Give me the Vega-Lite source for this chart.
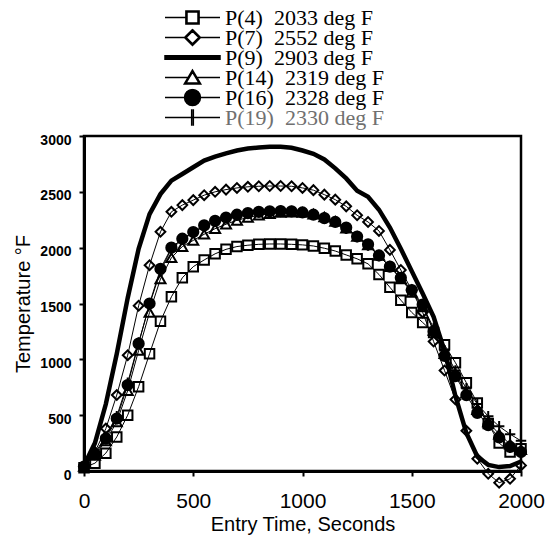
{
  "$schema": "https://vega.github.io/schema/vega-lite/v6.json",
  "width": 437,
  "height": 335,
  "autosize": "none",
  "padding": {"left": 84, "top": 136, "right": 25, "bottom": 73},
  "background": "white",
  "config": {"view": {"stroke": "black", "strokeWidth": 2.5}},
  "data": {"values": [
    {"t": 0, "p4": 30, "p7": 40, "p9": 50, "p14": 40, "p16": 40, "p19": 50},
    {"t": 50, "p4": 70, "p7": 170, "p9": 250, "p14": 140, "p16": 150, "p19": 160},
    {"t": 100, "p4": 160, "p7": 380, "p9": 600, "p14": 270, "p16": 290, "p19": 310},
    {"t": 150, "p4": 305, "p7": 680, "p9": 1050, "p14": 440, "p16": 470, "p19": 490},
    {"t": 200, "p4": 500, "p7": 1037, "p9": 1550, "p14": 720, "p16": 770, "p19": 790},
    {"t": 250, "p4": 755, "p7": 1480, "p9": 1990, "p14": 1080, "p16": 1140, "p19": 1150},
    {"t": 300, "p4": 1050, "p7": 1843, "p9": 2300, "p14": 1420, "p16": 1500, "p19": 1490},
    {"t": 350, "p4": 1340, "p7": 2142, "p9": 2480, "p14": 1720, "p16": 1810, "p19": 1790},
    {"t": 400, "p4": 1560, "p7": 2321, "p9": 2600, "p14": 1910, "p16": 2000, "p19": 1990},
    {"t": 450, "p4": 1730, "p7": 2381, "p9": 2660, "p14": 2010, "p16": 2080, "p19": 2070},
    {"t": 500, "p4": 1830, "p7": 2426, "p9": 2720, "p14": 2065, "p16": 2140, "p19": 2135},
    {"t": 550, "p4": 1890, "p7": 2470, "p9": 2780, "p14": 2120, "p16": 2200, "p19": 2190},
    {"t": 600, "p4": 1945, "p7": 2500, "p9": 2815, "p14": 2170, "p16": 2240, "p19": 2235},
    {"t": 650, "p4": 1985, "p7": 2520, "p9": 2845, "p14": 2210, "p16": 2270, "p19": 2265},
    {"t": 700, "p4": 2010, "p7": 2535, "p9": 2870, "p14": 2245, "p16": 2295, "p19": 2290},
    {"t": 750, "p4": 2022, "p7": 2545, "p9": 2888, "p14": 2270, "p16": 2310, "p19": 2308},
    {"t": 800, "p4": 2030, "p7": 2550, "p9": 2897, "p14": 2290, "p16": 2320, "p19": 2320},
    {"t": 850, "p4": 2033, "p7": 2552, "p9": 2903, "p14": 2305, "p16": 2326, "p19": 2327},
    {"t": 900, "p4": 2033, "p7": 2552, "p9": 2903, "p14": 2315, "p16": 2328, "p19": 2330},
    {"t": 950, "p4": 2030, "p7": 2550, "p9": 2895, "p14": 2319, "p16": 2325, "p19": 2328},
    {"t": 1000, "p4": 2025, "p7": 2535, "p9": 2870, "p14": 2315, "p16": 2315, "p19": 2318},
    {"t": 1050, "p4": 2015, "p7": 2515, "p9": 2840, "p14": 2300, "p16": 2295, "p19": 2300},
    {"t": 1100, "p4": 1995, "p7": 2475, "p9": 2790, "p14": 2275, "p16": 2265, "p19": 2270},
    {"t": 1150, "p4": 1970, "p7": 2430, "p9": 2710, "p14": 2235, "p16": 2230, "p19": 2230},
    {"t": 1200, "p4": 1935, "p7": 2370, "p9": 2620, "p14": 2175, "p16": 2180, "p19": 2170},
    {"t": 1250, "p4": 1900, "p7": 2290, "p9": 2510, "p14": 2100, "p16": 2100, "p19": 2095},
    {"t": 1300, "p4": 1855, "p7": 2230, "p9": 2455, "p14": 2025, "p16": 2030, "p19": 2020},
    {"t": 1350, "p4": 1760, "p7": 2150, "p9": 2340, "p14": 1930, "p16": 1930, "p19": 1925},
    {"t": 1400, "p4": 1645, "p7": 1980, "p9": 2180, "p14": 1830, "p16": 1830, "p19": 1830},
    {"t": 1450, "p4": 1530, "p7": 1800, "p9": 1990, "p14": 1720, "p16": 1730, "p19": 1725},
    {"t": 1500, "p4": 1420, "p7": 1620, "p9": 1790, "p14": 1600, "p16": 1620, "p19": 1610},
    {"t": 1550, "p4": 1330, "p7": 1420, "p9": 1590, "p14": 1470, "p16": 1490, "p19": 1480},
    {"t": 1600, "p4": 1240, "p7": 1160, "p9": 1380, "p14": 1260, "p16": 1250, "p19": 1280},
    {"t": 1650, "p4": 1130, "p7": 900, "p9": 1075, "p14": 1050, "p16": 1030, "p19": 1080},
    {"t": 1700, "p4": 970, "p7": 640, "p9": 670, "p14": 870, "p16": 850, "p19": 900},
    {"t": 1750, "p4": 790, "p7": 360, "p9": 340, "p14": 700, "p16": 680, "p19": 740},
    {"t": 1800, "p4": 610, "p7": 110, "p9": 130, "p14": 550, "p16": 520, "p19": 600},
    {"t": 1850, "p4": 425, "p7": -25, "p9": 55, "p14": 440, "p16": 410, "p19": 490},
    {"t": 1900, "p4": 250, "p7": -105, "p9": 35, "p14": 330, "p16": 300, "p19": 400},
    {"t": 1950, "p4": 170, "p7": -70, "p9": 45, "p14": 240, "p16": 215, "p19": 330},
    {"t": 2000, "p4": 200, "p7": 50, "p9": 85, "p14": 190, "p16": 170, "p19": 270}
  ]},
  "transform": [{"fold": ["p4", "p7", "p9", "p14", "p16", "p19"], "as": ["s", "T"]}],
  "encoding": {
    "x": {
      "field": "t", "type": "quantitative",
      "scale": {"domain": [0, 2000], "nice": false, "zero": false},
      "axis": {
        "values": [0, 500, 1000, 1500, 2000], "format": "d", "grid": false,
        "domainColor": "black", "domainWidth": 3,
        "tickColor": "black", "tickWidth": 2, "tickSize": 5,
        "labelFont": "Liberation Sans", "labelFontSize": 21, "labelColor": "black", "labelPadding": 14,
        "labelFlush": false,
        "title": "Entry Time, Seconds", "titleFont": "Liberation Sans", "titleFontSize": 20,
        "titleFontWeight": "normal", "titleColor": "black", "titlePadding": 3
      }
    },
    "y": {
      "field": "T", "type": "quantitative",
      "scale": {"domain": [0, 3000], "nice": false},
      "axis": {
        "values": [0, 500, 1000, 1500, 2000, 2500, 3000], "format": "d", "grid": false,
        "domainColor": "black", "domainWidth": 3,
        "tickColor": "black", "tickWidth": 2, "tickSize": 5,
        "labelFont": "Liberation Sans", "labelFontSize": 14, "labelFontWeight": "bold",
        "labelColor": "black", "labelPadding": 8, "labelOffset": 4, "labelFlush": false,
        "title": "Temperature °F", "titleFont": "Liberation Sans", "titleFontSize": 20,
        "titleFontWeight": "normal", "titleColor": "black", "titlePadding": 6
      }
    }
  },
  "layer": [
    {
      "transform": [{"filter": "datum.s != 'p9'"}],
      "mark": {"type": "line", "color": "black", "strokeWidth": 1, "clip": false},
      "encoding": {"detail": {"field": "s", "type": "nominal"}}
    },
    {
      "transform": [{"filter": "datum.s == 'p9'"}],
      "mark": {"type": "line", "color": "black", "strokeWidth": 4.5, "clip": false},
      "encoding": {}
    },
    {
      "transform": [{"filter": "datum.s != 'p9'"}],
      "mark": {"type": "point", "filled": true, "stroke": "black", "strokeWidth": 2, "opacity": 1, "clip": false},
      "encoding": {
        "shape": {
          "field": "s", "type": "nominal",
          "scale": {"domain": ["p4", "p7", "p14", "p16", "p19"], "range": ["square", "diamond", "triangle-up", "circle", "M-1,0H1M0,-1V1"]},
          "legend": null
        },
        "fill": {
          "field": "s", "type": "nominal",
          "scale": {"domain": ["p4", "p7", "p14", "p16", "p19"], "range": ["transparent", "transparent", "transparent", "black", "transparent"]},
          "legend": null
        },
        "size": {
          "field": "s", "type": "nominal",
          "scale": {"domain": ["p4", "p7", "p14", "p16", "p19"], "range": [90, 110, 70, 150, 100]},
          "legend": null
        }
      }
    },
    {
      "mark": {"type": "point", "filled": true, "opacity": 0, "size": 3025, "stroke": "black", "strokeWidth": 1.5},
      "encoding": {
        "shape": {
          "field": "s", "type": "nominal",
          "scale": {
            "domain": ["p4", "p7", "p9", "p14", "p16", "p19"],
            "range": [
              "M-1,0H-0.24M0.24,0H1M-0.24,-0.24H0.24V0.24H-0.24ZM-0.2,-0.2H0.2V0.2H-0.2Z",
              "M-1,0H-0.29M0.29,0H1M-0.29,0L0,-0.29L0.29,0L0,0.29ZM-0.23,0L0,-0.23L0.23,0L0,0.23Z",
              "M-1,-0.065H1V0.065H-1Z",
              "M-1,0H-0.15M0.15,0H1M0,-0.27L0.3,0.24H-0.3ZM0,-0.2L0.24,0.2H-0.24Z",
              "M-1,0H1M-0.29,0A0.29,0.29,0,1,0,0.29,0A0.29,0.29,0,1,0,-0.29,0Z",
              "M-1,0H1M-0.03,-0.3V0.3M0.03,-0.3V0.3"
            ]
          },
          "legend": {
            "orient": "none", "legendX": 80, "legendY": -127.5, "direction": "vertical",
            "title": null, "padding": 0, "rowPadding": -6, "clipHeight": 18,
            "symbolSize": 3025, "symbolStrokeWidth": 1.5, "symbolStrokeColor": "black", "symbolOpacity": 1,
            "labelFont": "Liberation Serif", "labelFontSize": 22, "labelColor": "black", "labelOffset": 4, "labelLimit": 0,
            "labelExpr": "datum.value == 'p4' ? 'P(4)\u00a0\u00a02033 deg F' : datum.value == 'p7' ? 'P(7)\u00a0\u00a02552 deg F' : datum.value == 'p9' ? 'P(9)\u00a0\u00a02903 deg F' : datum.value == 'p14' ? 'P(14)\u00a0\u00a02319 deg F' : datum.value == 'p16' ? 'P(16)\u00a0\u00a02328 deg F' : 'P(19)\u00a0\u00a02330 deg F'",
            "encode": {"labels": {"update": {"fill": {"signal": "datum.value == 'p19' ? '#707070' : 'black'"}}}}
          }
        },
        "fill": {
          "field": "s", "type": "nominal",
          "scale": {"domain": ["p4", "p7", "p9", "p14", "p16", "p19"], "range": ["white", "white", "black", "white", "black", "white"]},
          "legend": {
            "orient": "none", "legendX": 80, "legendY": -127.5, "direction": "vertical",
            "title": null, "padding": 0, "rowPadding": -6, "clipHeight": 18,
            "symbolSize": 3025, "symbolStrokeWidth": 1.5, "symbolStrokeColor": "black", "symbolOpacity": 1,
            "labelFont": "Liberation Serif", "labelFontSize": 22, "labelColor": "black", "labelOffset": 4, "labelLimit": 0,
            "labelExpr": "datum.value == 'p4' ? 'P(4)\u00a0\u00a02033 deg F' : datum.value == 'p7' ? 'P(7)\u00a0\u00a02552 deg F' : datum.value == 'p9' ? 'P(9)\u00a0\u00a02903 deg F' : datum.value == 'p14' ? 'P(14)\u00a0\u00a02319 deg F' : datum.value == 'p16' ? 'P(16)\u00a0\u00a02328 deg F' : 'P(19)\u00a0\u00a02330 deg F'",
            "encode": {"labels": {"update": {"fill": {"signal": "datum.value == 'p19' ? '#707070' : 'black'"}}}}
          }
        }
      }
    }
  ],
  "resolve": {"scale": {"shape": "independent", "fill": "independent", "size": "independent"}}
}
